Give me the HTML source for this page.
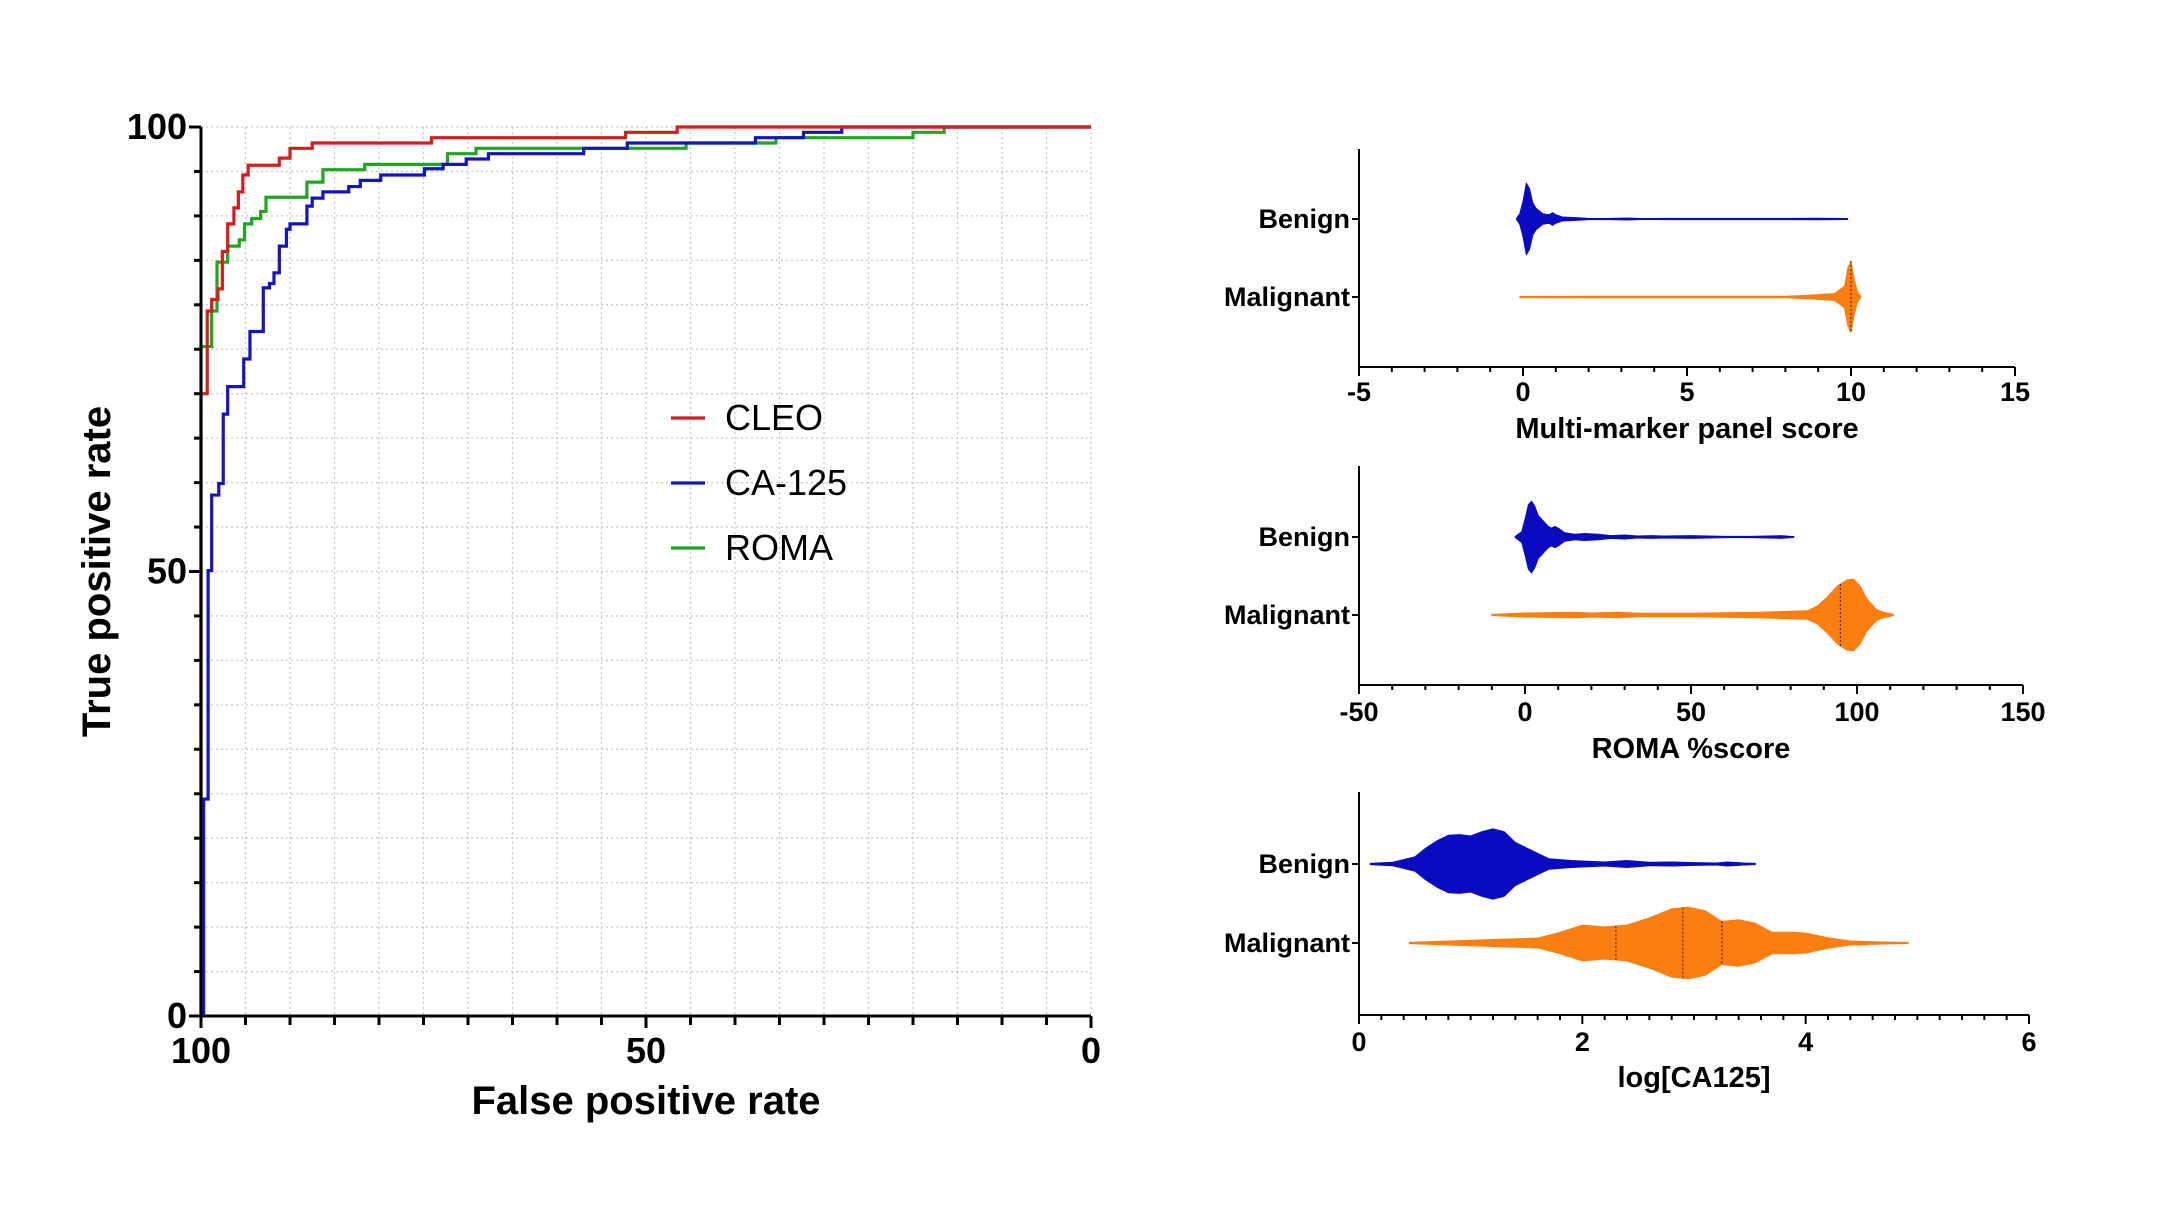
<!DOCTYPE html>
<html><head><meta charset="utf-8"><style>
html,body{margin:0;padding:0;background:#fff}
svg{display:block}
text{font-family:"Liberation Sans",Arial,sans-serif}
</style></head><body>
<svg id="fig" width="2160" height="1215" viewBox="0 0 2160 1215" xmlns="http://www.w3.org/2000/svg">
<rect width="2160" height="1215" fill="#fff"/>
<g id="roc"></g>
<g id="vio"></g>
</svg>
<script>
// ROC data: x = axis value (100 at left), y = true positive rate
const cleoX = [100,100,99.3,98.8,98.1,97.6,97,96.3,95.8,95.3,94.7,91.2,90,87.5,74.1,52.3,46.5,0];
const cleoY = [0,70,79.3,80.6,81.8,86,89.1,90.9,92.7,94.6,95.7,96.5,97.6,98.2,98.8,99.4,100,100];
const caX = [99.7,99.7,99.2,98.8,98,97.5,97,95.2,94.5,93,92.3,91.8,91.2,90.4,90,88.1,87.5,86.3,83.4,82.1,79.8,74.9,72.8,70.2,67.7,57,52.1,37.7,32.3,28,0];
const caY = [0,24.4,50.1,58.6,59.9,67.7,70.8,73.9,77,81.9,82.4,83.6,86.6,88.5,89.1,91.1,92,92.7,93.3,94,94.6,95.3,95.8,96.4,97,97.6,98.2,98.8,99.4,100,100];
const romaX = [100,100,98.8,98.2,97,95.7,95.1,94.3,93.3,92.7,88.1,86.3,81.6,72.3,69.1,45.5,35.4,20,16.5,0];
const romaY = [0,75.3,79.3,84.8,86.6,87.3,89.1,89.7,90.5,92.1,93.8,95.2,95.8,97,97.6,98.2,98.8,99.4,100,100];
const rocTicks = [0,50,100];
const legendNames = ["CLEO","CA-125","ROMA"];

// Violin data
const p1BenignV = [-0.2,-0.1,0,0.1,0.2,0.3,0.4,0.6,0.8,0.9,1.0,1.2,1.6,2,2.5,3.2,3.6,4.5,5.6,6.5,7.2,8.0,9.0,9.9];
const p1BenignD = [0,0.15,0.5,1.0,0.85,0.45,0.3,0.15,0.12,0.18,0.12,0.06,0.04,0.02,0.015,0.03,0.01,0.02,0.02,0.02,0.02,0.02,0.025,0.01];
const p1MalV = [-0.1,2,4,6,8,8.8,9.5,9.8,9.9,10,10.1,10.2,10.3];
const p1MalD = [0.02,0.025,0.025,0.025,0.025,0.06,0.1,0.3,0.8,1.0,0.5,0.15,0];
const p2BenignV = [-3,-1,0,1,2,3,4,5,6,7,8,9,10,12,15,18,22,26,30,34,38,42,50,55,60,68,77,80,81];
const p2BenignD = [0,0.15,0.5,0.9,1.0,0.85,0.6,0.5,0.4,0.3,0.25,0.3,0.25,0.12,0.08,0.1,0.08,0.04,0.06,0.03,0.04,0.03,0.04,0.03,0.02,0.02,0.04,0.02,0];
const p2MalV = [-10,0,15,20,28,35,50,70,85,88,91,94,97,99,101,103,106,108,110,111];
const p2MalD = [0.02,0.06,0.08,0.06,0.08,0.05,0.05,0.08,0.12,0.25,0.5,0.8,0.98,1.0,0.8,0.45,0.15,0.08,0.04,0];
const p3BenignV = [0.1,0.3,0.5,0.6,0.7,0.8,0.9,1.0,1.1,1.2,1.3,1.4,1.5,1.6,1.7,1.9,2.2,2.4,2.6,2.8,3.0,3.2,3.3,3.45,3.55];
const p3BenignD = [0.02,0.05,0.2,0.45,0.65,0.8,0.82,0.78,0.9,0.98,0.9,0.6,0.45,0.3,0.15,0.1,0.06,0.1,0.05,0.06,0.04,0.03,0.06,0.03,0.02];
const p3MalV = [0.45,0.8,1.2,1.6,1.8,2.0,2.2,2.4,2.6,2.8,2.95,3.1,3.25,3.4,3.55,3.7,3.9,4.0,4.2,4.4,4.7,4.92];
const p3MalD = [0.02,0.06,0.1,0.14,0.3,0.5,0.45,0.5,0.7,0.95,1.0,0.9,0.6,0.65,0.55,0.3,0.3,0.28,0.15,0.06,0.03,0.02];
const p1Ticks = [-5,0,5,10,15];
const p2Ticks = [-50,0,50,100,150];
const p3Ticks = [0,2,4,6];
const p1Median = [10];
const p2Median = [95];
const p3Quartiles = [2.3,2.9,3.25];

const NS = "http://www.w3.org/2000/svg";
function mk(parent, tag, attrs, txt){
  const e = document.createElementNS(NS, tag);
  for (const k in attrs) e.setAttribute(k, attrs[k]);
  if (txt !== undefined) e.textContent = txt;
  parent.appendChild(e); return e;
}

// ---------- ROC ----------
const roc = document.getElementById('roc');
const L=201, R=1091, T=127, B=1016;
const sx = v => L + (100 - v) / 100 * (R - L);
const sy = v => B - v / 100 * (B - T);
for (let v = 0; v <= 100; v += 5) {
  let g = mk(roc,'line',{x1:sx(v),x2:sx(v),y1:T,y2:B,stroke:'#c8c8c8','stroke-width':1.3,'stroke-dasharray':'2 3'});
  
  
  let h = mk(roc,'line',{x1:L,x2:R,y1:sy(v),y2:sy(v),stroke:'#c8c8c8','stroke-width':1.3,'stroke-dasharray':'2 3'});
  
  
  let tx = mk(roc,'line',{x1:sx(v),x2:sx(v),y1:B,y2:B+(v%50===0?12:9),stroke:'#000','stroke-width':3});
  
  
  let ty = mk(roc,'line',{x1:L-(v%50===0?12:7),x2:L,y1:sy(v),y2:sy(v),stroke:'#000','stroke-width':3});
  
  
}
function stepPath(xs, ys){
  let d = 'M'+sx(xs[0])+','+sy(ys[0]);
  for (let i=1;i<xs.length;i++){ d += 'L'+sx(xs[i])+','+sy(ys[i-1])+'L'+sx(xs[i])+','+sy(ys[i]); }
  return d;
}
const series = [[romaX,romaY,'#1fa81f','roma-curve'],[caX,caY,'#1414c4','ca125-curve'],[cleoX,cleoY,'#d81c1c','cleo-curve']];
series.forEach(s=>{
  const p = mk(roc,'path',{d:stepPath(s[0],s[1]),fill:'none',stroke:s[2],'stroke-width':3.2});
  
  
});
let ax = mk(roc,'path',{d:`M${L},${T}V${B}H${R}`,fill:'none',stroke:'#000','stroke-width':3});


rocTicks.forEach(v=>{
  let t = mk(roc,'text',{x:sx(v),y:1063,'text-anchor':'middle','font-size':36,'font-weight':'bold'},String(v));
  
  
  let u = mk(roc,'text',{x:L-14,y:sy(v)+12,'text-anchor':'end','font-size':36,'font-weight':'bold'},String(v));
  
  
});
let xt = mk(roc,'text',{x:(L+R)/2,y:1114,'text-anchor':'middle','font-size':40,'font-weight':'bold'},'False positive rate');


let yt = mk(roc,'text',{x:0,y:0,'text-anchor':'middle','font-size':40,'font-weight':'bold',transform:`translate(110,${(T+B)/2}) rotate(-90)`},'True positive rate');


const legColors = ['#d81c1c','#1414c4','#1fa81f'];
legendNames.forEach((n,i)=>{
  const y = 418 + i*65;
  let g = mk(roc,'g',{});
  
  
  mk(g,'line',{x1:671,x2:705,y1:y,y2:y,stroke:legColors[i],'stroke-width':3.2});
  mk(g,'text',{x:725,y:y+12,'font-size':36},n);
});

// ---------- Violins ----------
const vio = document.getElementById('vio');
const VL = 1359;
const panels = [
  {min:-5,max:15,right:2015,axisY:367,top:149,rows:[219,297],minor:1,ticks:p1Ticks,title:'Multi-marker panel score',tickY:401,titleY:438,
   data:[[p1BenignV,p1BenignD,'#0a0ac0'],[p1MalV,p1MalD,'#fb7f10']],lines:[[],p1Median],name:'multimarker'},
  {min:-50,max:150,right:2023,axisY:685,top:466,rows:[537,615],minor:10,ticks:p2Ticks,title:'ROMA %score',tickY:721,titleY:758,
   data:[[p2BenignV,p2BenignD,'#0a0ac0'],[p2MalV,p2MalD,'#fb7f10']],lines:[[],p2Median],name:'roma'},
  {min:0,max:6,right:2029,axisY:1015,top:792,rows:[864,943],minor:0.2,ticks:p3Ticks,title:'log[CA125]',tickY:1051,titleY:1087,
   data:[[p3BenignV,p3BenignD,'#0a0ac0'],[p3MalV,p3MalD,'#fb7f10']],lines:[[],p3Quartiles],name:'ca125'}
];
const rowNames = ['Benign','Malignant'];
const HALF = 36;
function interp(V, D, m){
  for (let i=1;i<V.length;i++){ if (m<=V[i]) { const t=(m-V[i-1])/(V[i]-V[i-1]); return D[i-1]+t*(D[i]-D[i-1]); } }
  return 0;
}
panels.forEach(P=>{
  const g = mk(vio,'g',{});
  
  
  const vx = v => VL + (v - P.min)/(P.max - P.min)*(P.right - VL);
  const n = Math.round((P.max-P.min)/P.minor);
  for (let i=0;i<=n;i++){
    const v = P.min + i*P.minor;
    const major = P.ticks.some(t=>Math.abs(t-v)<1e-6);
    let tk = mk(g,'line',{x1:vx(v),x2:vx(v),y1:P.axisY,y2:P.axisY+(major?9:5),stroke:'#000','stroke-width':2});
    
    
  }
  P.data.forEach((d,ri)=>{
    const cy = P.rows[ri];
    const V=d[0], D=d[1];
    let top='', bot='';
    for (let i=0;i<V.length;i++){
      const h = Math.max(D[i]*HALF, 0.6);
      top += (i===0?'M':'L')+vx(V[i])+','+(cy-h);
    }
    for (let i=V.length-1;i>=0;i--){
      const h = Math.max(D[i]*HALF, 0.6);
      bot += 'L'+vx(V[i])+','+(cy+h);
    }
    const p = mk(g,'path',{d:top+bot+'Z',fill:d[2],stroke:d[2],'stroke-width':0.8,'stroke-linejoin':'round'});
    
    
    P.lines[ri].forEach(m=>{
      const hh = interp(V,D,m)*HALF;
      let ml = mk(g,'line',{x1:vx(m),x2:vx(m),y1:cy-hh,y2:cy+hh,stroke:'#6a3000','stroke-width':1.3,'stroke-dasharray':'2 2'});
      
      
    });
    let rt = mk(g,'line',{x1:VL-7,x2:VL,y1:cy,y2:cy,stroke:'#000','stroke-width':2});
    
    
    let lb = mk(g,'text',{x:VL-9,y:cy+9,'text-anchor':'end','font-size':27,'font-weight':'bold'},rowNames[ri]);
    
    
  });
  let a = mk(g,'path',{d:`M${VL},${P.top}V${P.axisY}H${P.right}`,fill:'none',stroke:'#000','stroke-width':2});
  
  
  P.ticks.forEach(t=>{
    let tl = mk(g,'text',{x:vx(t),y:P.tickY,'text-anchor':'middle','font-size':27,'font-weight':'bold'},String(t));
    
    
  });
  let ti = mk(g,'text',{x:(VL+P.right)/2,y:P.titleY,'text-anchor':'middle','font-size':29,'font-weight':'bold'},P.title);
  
  
});
</script>
</body></html>
